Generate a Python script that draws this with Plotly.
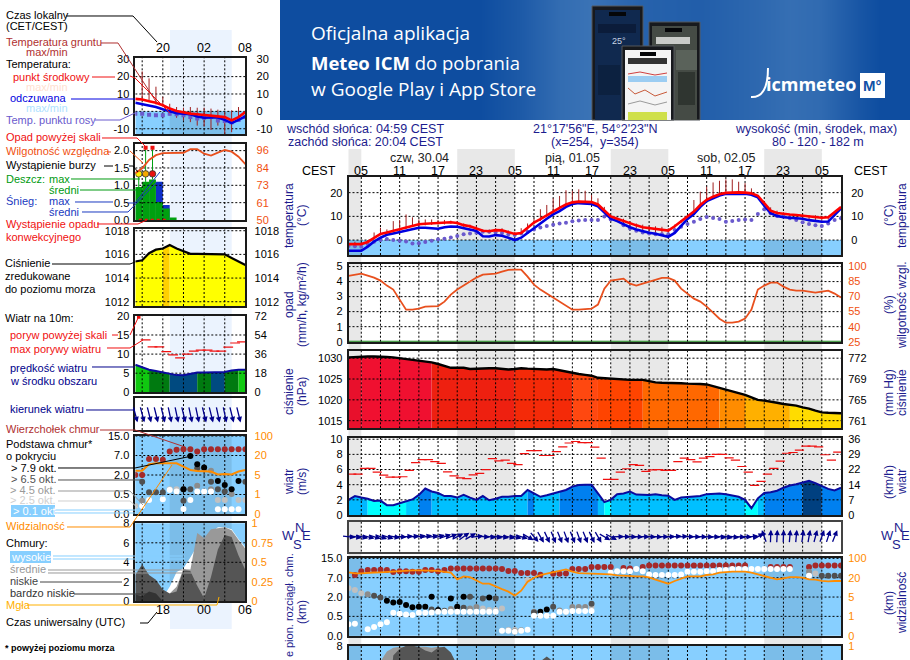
import math
import plotly.graph_objects as go

W, H = 910, 660
FONT = "Liberation Sans"
NAVY = "#1c1c8e"
ORANGE = "#f05010"
VIS = "#ff8c00"
SKY = "#87cfff"
SKY_NIGHT = "#7bbde9"

# ---- main meteogram, one value per hour, hour 0 = 03 CEST on 30.04
temp = [-1.7, -1.6, -1.7, -0.8, 1.0, 2.6, 3.2, 3.9, 4.5, 5.2, 6.2, 6.7, 6.9, 7.0, 7.1, 7.3, 7.5, 7.2, 6.3, 5.8,
        4.8, 3.9, 3.7, 4.2, 4.1, 3.3, 2.6, 3.0, 5.2, 7.4, 8.8, 10.5, 12.2, 13.6, 15.0, 15.9, 16.2, 16.2, 16.0, 15.0,
        12.6, 10.0, 9.0, 8.0, 7.0, 6.2, 5.4, 5.0, 4.7, 4.4, 4.0, 5.8, 7.9, 9.8, 12.0, 14.8, 17.0, 18.3, 19.3, 19.9,
        20.1, 20.1, 20.0, 19.7, 18.7, 15.4, 12.4, 11.4, 11.0, 10.8, 10.6, 10.3, 10.0, 9.7, 9.4, 9.6, 11.6, 13.9]
feel = [-4.5, -4.5, -4.5, -2.8, -0.6, 1.0, 2.2, 2.8, 3.4, 4.2, 4.9, 5.2, 5.2, 5.1, 4.8, 5.4, 5.7, 5.6, 5.0, 4.5,
        3.8, 1.6, 1.5, 2.1, 1.8, 1.0, 0.0, 1.0, 3.0, 5.3, 7.0, 9.0, 10.8, 12.2, 14.0, 15.2, 15.6, 15.5, 15.2, 14.2,
        11.5, 9.0, 8.0, 6.7, 5.4, 4.5, 3.7, 3.1, 2.7, 2.0, 1.4, 3.0, 6.0, 8.9, 11.0, 14.0, 16.5, 17.6, 18.8, 19.5,
        19.6, 19.6, 19.5, 19.1, 18.0, 14.5, 11.3, 10.2, 9.6, 9.4, 9.2, 9.0, 8.4, 8.0, 7.7, 7.8, 10.6, 13.4]
dew = [-2.5, -2.6, -2.8, -1.7, -0.7, 0.0, 0.5, 0.0, -0.3, -0.6, -1.4, -1.3, -0.8, -0.3, 0.3, 0.6, 1.1, 1.7, 2.4, 2.8,
       3.1, 3.5, 3.5, 3.2, 3.0, 2.5, 2.1, 2.8, 3.5, 4.5, 5.3, 5.9, 6.5, 7.0, 7.3, 7.9, 8.2, 8.5, 8.5, 8.5,
       9.9, 8.7, 8.5, 6.3, 4.9, 3.9, 3.2, 2.8, 2.5, 2.4, 2.5, 4.2, 5.6, 6.8, 7.7, 8.9, 9.7, 9.3, 8.9, 7.7,
       8.0, 8.5, 8.7, 8.5, 11.0, 13.0, 11.3, 10.1, 9.9, 9.2, 8.5, 7.5, 6.8, 6.3, 5.9, 7.0, 8.5, 9.2]
soil_max = [-1.0, -0.7, -1.0, 0.0, 3.2, 5.2, 4.5, 8.0, 8.5, 10.8, 9.6, 8.7, 8.7, 8.7, 8.5, 8.5, 8.2, 8.0, 7.0, 6.5,
            6.0, 4.5, 4.5, 5.0, 5.0, 4.0, 3.5, 5.0, 7.0, 9.0, 13.0, 14.8, 17.6, 18.6, 21.0, 20.8, 21.4, 20.8, 19.0, 17.6,
            14.0, 10.5, 9.5, 9.0, 8.0, 7.0, 6.5, 6.0, 5.8, 5.6, 5.0, 6.5, 8.5, 10.5, 16.9, 20.4, 22.5, 24.3, 25.0, 25.6,
            25.6, 24.6, 24.0, 21.8, 19.0, 15.5, 13.8, 12.4, 11.7, 10.8, 10.8, 10.8, 10.5, 10.5, 10.0, 10.0, 11.8, 14.2]
soil_min = [-2.6, -2.6, -2.5, -1.5, 0.5, 2.0, 2.6, 3.2, 3.9, 4.6, 5.5, 6.0, 6.2, 6.4, 6.5, 6.6, 6.9, 6.6, 5.6, 5.1,
            4.0, 3.0, 2.8, 3.5, 3.2, 2.4, 1.6, 2.2, 4.4, 6.6, 8.0, 9.8, 11.6, 13.0, 14.4, 15.4, 15.8, 15.8, 15.5, 14.4,
            12.0, 9.0, 8.0, 7.0, 6.0, 5.0, 4.0, 3.5, 3.0, 2.5, 2.0, 5.0, 7.2, 9.2, 11.4, 14.2, 16.4, 17.8, 18.8, 19.4,
            19.6, 19.6, 19.4, 19.2, 18.0, 14.6, 11.6, 10.6, 10.0, 9.8, 9.4, 9.0, 8.6, 8.4, 8.0, 8.6, 11.0, 13.4]
hours_3h = [0, 3, 6, 9, 12, 15, 18, 21, 24, 27, 30, 33, 36, 39, 42, 45, 48, 51, 54, 57, 60, 63, 66, 69, 72, 75, 77]
temp_upper = [-1.0, 0.0, 4.0, 6.0, 7.8, 8.2, 7.2, 5.0, 5.0, 4.0, 9.6, 14.4, 16.9, 15.8, 10.0, 7.4, 5.6, 6.5, 12.8, 19.0,
              20.9, 20.5, 14.0, 12.4, 11.5, 10.6, 14.6]
feel_lower = [-5.0, -3.5, 1.2, 3.4, 4.4, 4.8, 4.2, 0.6, 0.8, -0.2, 5.6, 11.0, 14.3, 13.2, 7.2, 3.7, 1.9, 2.2, 10.0, 16.5,
              18.6, 18.0, 10.4, 8.6, 7.6, 7.0, 12.6]
humidity = [90.7, 92, 93, 91, 89, 86, 81, 77, 67, 57, 57, 58, 60, 60, 60.6, 65, 72, 77, 81, 85,
            89, 92, 92.5, 93, 95, 96.7, 97, 97, 90, 82, 77, 73, 69, 65, 61, 57, 57, 57.5, 58, 62,
            78, 86, 87, 88, 83, 81, 83, 85, 87, 88.7, 88.7, 86, 78, 73, 68, 65, 60, 54, 48, 44,
            44, 45, 48, 57, 77, 81, 84, 84, 80, 77, 76, 76, 75, 74, 75, 76, 73, 69]
precip = [0] * 78
pressure = [1030.2, 1030.3, 1030.3, 1030.4, 1030.4, 1030.4, 1030.3, 1030.2, 1030.0, 1029.8, 1029.7, 1029.5, 1029.3, 1029.0, 1028.6, 1028.2, 1027.7, 1027.7, 1027.7, 1027.4,
            1027.5, 1027.6, 1027.6, 1027.6, 1027.4, 1027.3, 1027.4, 1027.6, 1027.5, 1027.4, 1027.3, 1027.3, 1027.4, 1027.1, 1026.8, 1026.4, 1026.2, 1026.0, 1025.8, 1025.3,
            1025.2, 1025.0, 1024.9, 1024.9, 1024.8, 1024.8, 1024.8, 1024.5, 1024.2, 1024.1, 1024.1, 1024.0, 1024.0, 1023.9, 1023.9, 1023.8, 1023.7, 1023.3, 1022.9, 1022.5,
            1022.1, 1021.7, 1021.2, 1020.6, 1020.0, 1019.8, 1019.6, 1019.3, 1019.0, 1018.8, 1018.6, 1018.2, 1017.9, 1017.4, 1017.0, 1016.9, 1016.8, 1016.8]
press_breaks = [0, 2, 13, 26, 35, 39, 46, 58, 62, 69, 77]
press_colors = ["#e8102c", "#f01030", "#ee2010", "#f42a08", "#ff4810", "#ff4400", "#ff6800", "#ff8c00", "#ffb000", "#ffdc00"]
wind = [2.0, 2.5, 2.3, 2.15, 1.85, 1.9, 1.3, 1.28, 1.55, 1.85, 2.05, 2.65, 3.5, 3.1, 2.9, 2.5, 2.5, 2.3, 2.65, 2.3,
        2.0, 2.5, 1.95, 2.15, 2.4, 2.4, 2.5, 2.5, 3.3, 2.85, 2.4, 2.6, 2.85, 3.0, 3.3, 3.75, 3.95, 4.0, 4.0, 2.85,
        1.7, 2.0, 2.75, 2.85, 3.1, 2.7, 2.65, 2.65, 2.75, 2.6, 2.55, 2.0, 2.3, 2.35, 2.4, 2.5, 2.75, 2.8, 2.85, 2.75,
        2.55, 2.4, 2.0, 0.9, 2.2, 2.9, 3.0, 3.2, 3.6, 3.9, 4.05, 4.3, 4.5, 4.2, 3.8, 3.45, 3.25, 3.6]
wind_breaks = [0, 3, 9, 11, 13, 28, 29, 33, 39, 40, 41, 62, 64, 65, 71, 74, 77]
wind_colors = ["#00b8ff", "#00ffff", "#00c8ff", "#0080f0", "#00c0ff", "#0080f0", "#00c0ff", "#0080f0", "#00c0ff", "#00ffff",
               "#00c0ff", "#00ffff", "#00c0ff", "#0080f0", "#004080", "#0080f0"]
gust = [5.4, 5.4, 6.15, 6.15, 5.65, 5.25, 5.0, 5.0, 5.05, 5.9, 6.9, 7.3, 7.3, 7.05, 6.8, 5.7, 5.15, 4.9, 4.8, 5.3,
        5.5, 6.0, 7.45, 7.15, 7.25, 6.8, 6.65, 8.1, 8.5, 8.5, 7.85, 7.85, 8.35, 9.0, 9.5, 9.7, 9.55, 9.55, 8.95, 7.5,
        4.7, 4.7, 5.65, 6.1, 6.65, 6.55, 5.75, 5.95, 6.0, 5.9, 5.9, 7.05, 7.5, 7.3, 7.0, 7.5, 7.7, 8.0, 8.0, 7.55,
        7.25, 6.4, 5.65, 3.9, 4.45, 5.4, 6.15, 7.1, 8.15, 8.25, 8.55, 9.1, 9.1, 9.0, 7.95, 7.25, 8.3]
wind_dir = [97, 100, 103, 105, 108, 110, 108, 100, 92, 85, 82, 80, 78, 78, 75, 72, 68, 62, 55, 60,
            85, 95, 98, 100, 100, 102, 104, 108, 120, 140, 150, 155, 158, 158, 160, 158, 160, 158, 155, 150,
            120, 118, 88, 90, 92, 92, 90, 92, 92, 90, 88, 85, 86, 90, 92, 92, 94, 96, 98, 100,
            98, 96, 92, 85, 60, 340, 2, 3, 2, 5, 5, 8, 10, 15, 20, 18, 22, 25]
# cloud heights are positions on the uneven scale: 0=0.0 1=0.5 2=2.0 3=7.0 4=15.0 km
visibility = [3.28, 3.22, 3.22, 3.26, 3.27, 3.28, 3.3, 3.33, 3.35, 3.38, 3.38, 3.38, 3.38, 3.38, 3.35, 3.3, 3.26, 2.91, 3.07, 3.03,
              2.88, 2.69, 2.69, 2.53, 2.41, 2.28, 2.07, 2.33, 2.79, 3.0, 3.14, 3.21, 3.28, 3.34, 3.43, 3.31, 3.24, 3.22, 3.21, 3.21,
              3.21, 3.17, 3.12, 3.1, 3.07, 3.07, 3.07, 3.02, 2.9, 2.79, 2.69, 2.83, 2.97, 3.07, 3.07, 3.07, 3.14, 3.17, 3.26, 3.29,
              3.31, 3.31, 3.31, 3.26, 3.17, 3.1, 3.0, 2.91, 2.97, 3.03, 3.03, 3.0, 2.91, 2.9, 2.84, 2.81, 2.83, 2.83]
ctop_h = [1, 2, 3, 4, 5, 6, 7, 8, 9, 10, 11, 12, 13, 14, 15, 16, 17, 18, 19, 20, 21, 22, 23, 24, 25, 26, 27, 28, 29, 30, 32, 33, 34, 35, 36, 37, 38, 39, 40, 41, 43, 44, 46,
          47, 48, 49, 50, 51, 52, 53, 54, 55, 56, 57, 58, 59, 60, 61, 62, 66, 67, 68, 69, 72, 73, 74, 75, 76, 77]
ctop_v = [3.14, 3.34, 3.4, 3.4, 3.41, 3.4, 3.3, 3.34, 3.34, 3.31, 3.31, 3.4, 3.4, 3.34, 3.4, 3.48, 3.48, 3.48, 3.48, 3.48, 3.48, 3.48, 3.48, 3.45, 3.35, 3.35, 3.25, 3.25, 3.25, 3.15, 3.2, 3.2, 3.22, 3.45, 3.45, 3.45, 3.55, 3.55, 3.55, 3.55, 3.5, 3.48, 3.55,
          3.63, 3.63, 3.63, 3.63, 3.63, 3.63, 3.63, 3.63, 3.63, 3.63, 3.63, 3.63, 3.63, 3.63, 3.63, 3.63, 3.55, 3.55, 3.55, 3.55, 3.55, 3.63, 3.63, 3.63, 3.63, 3.63]
cwhite_h = [0, 1, 3, 4, 5, 6, 7, 8, 9, 10, 11, 12, 13, 14, 15, 16, 17, 18, 19, 20, 21, 22, 23, 24, 25, 26, 27, 28, 29, 30, 31, 32, 33, 34, 35, 36, 37, 38,
            41, 42, 43, 44, 45, 46, 47, 48, 49, 50, 51, 52, 53, 54, 55, 56, 57, 58, 59, 60, 61, 62, 63, 64, 65, 66, 67, 68, 69, 72]
cwhite_v = [0.59, 0.62, 0.33, 0.45, 0.59, 0.69, 1.19, 1.14, 1.1, 1.07, 1.19, 1.19, 1.2, 1.24, 1.24, 1.24, 1.24, 1.24, 1.24, 1.24, 1.24, 1.24, 1.24, 0.26, 0.26, 0.2, 0.26, 0.31, 1.03, 1.03, 1.03, 1.03, 1.24, 1.24, 1.28, 1.28, 1.28, 1.28,
            3.26, 3.34, 3.34, 3.34, 3.45, 3.34, 3.17, 3.14, 3.14, 3.14, 3.14, 3.17, 3.31, 3.31, 3.31, 3.34, 3.34, 3.4, 3.4, 3.45, 3.45, 3.45, 3.45, 3.45, 3.45, 3.45, 3.45, 3.45, 3.45, 3.1]
clight_h = [0, 1, 2, 21, 22, 23, 24, 25, 26, 28, 34, 38, 73]
clight_v = [2.45, 2.36, 2.2, 1.41, 1.33, 1.33, 1.41, 0.3, 0.3, 2.88, 1.24, 1.5, 3.22]
cgray_h = [3, 16, 17, 19, 20, 27, 29, 33, 35, 36, 37, 72]
cgray_v = [2.14, 1.38, 1.45, 1.41, 1.48, 0.28, 1.24, 1.3, 1.48, 1.48, 1.48, 3.31]
cdark_h = [4, 5, 13, 15, 18, 19, 21, 23, 26, 29, 32, 38, 74, 75, 76, 77]
cdark_v = [2.07, 1.98, 1.36, 1.29, 1.45, 2.02, 1.93, 1.93, 0.22, 1.2, 1.5, 1.65, 3.1, 3.1, 3.1, 3.1]
cblack_h = [6, 7, 8, 9, 10, 11, 12, 13, 14, 16, 17, 18, 22, 30, 31]
cblack_v = [1.81, 1.72, 1.74, 1.59, 1.47, 1.5, 1.5, 2.02, 1.33, 1.93, 1.5, 2.02, 1.97, 1.24, 1.36]
cloud_mid = [0, 0, 0, 0, 0, 6.4, 7.4, 7.8, 7.9, 7.9, 7.8, 7.9, 7.9, 7.8, 7.9, 7.8, 7.2, 6.0] + [0] * 60
cloud_low = [0, 0, 0, 0, 0, 0, 0, 7.0, 7.7, 8.0, 8.0, 7.9, 7.5, 7.3, 7.8, 7.9, 7.3, 6.0, 0, 0,
             0, 0, 0, 0, 0, 0, 0, 0, 0, 0, 6.4, 6.9, 6.4] + [0] * 45

# ---- explanatory mini chart on the left, 17 hourly values
l_temp = [7.2, 6.8, 5.8, 4.9, 3.5, 1.6, 0.2, -0.6, -1.3, -1.7, -2.1, -2.3, -2.5, -3.3, -5.2, -3.3, -0.4]
l_feel = [4.9, 4.1, 3.3, 2.5, 1.2, 0.0, -1.0, -1.4, -1.7, -2.9, -3.7, -3.5, -3.5, -4.9, -6.8, -4.9, -2.9]
l_dew = [-1.4, -1.4, -1.9, -2.3, -2.3, -1.4, -1.7, -2.3, -3.3, -4.1, -3.7, -3.3, -5.2, -5.6, -6.2, -4.9, -3.3]
l_soil_h = [1, 2, 3, 4, 5, 6, 7, 8, 9, 10, 11, 12, 13, 14, 15]
l_soil_max = [23, 19, 14.2, 8.4, 4.4, 2.5, 2.1, 2.5, 2.1, 2.1, 1.6, 1.0, -0.4, 0.6, 2.5]
l_soil_min = [6.5, 6, 4, 3, -2.3, -3.7, -5.2, -6.2, -8.2, -8.7, -10.7, -8.2, -13, -12, -5.2]
l_temp_max = [13.8, 12.6, 11.3, 9.5, 7.4, 5.0, 2.5, 2.2, 2.0, 1.8, 1.6, 1.2, 0.8, 0.2, -0.4, 0.2, 0.6]
l_feel_min = [0.0, -1.0, -1.0, -1.2, -2.0, -3.3, -5.0, -6.5, -7.5, -7.8, -7.9, -8.2, -8.8, -11.0, -11.5, -6.0, -2.0]
l_rain_mean = [0.95, 1.1, 1.17, 0.52, 0.33, 0.07, 0, 0, 0, 0, 0, 0, 0, 0, 0, 0]
l_snow_max = [0, 0, 0, 1.1, 0.43, 0, 0, 0, 0, 0, 0, 0, 0, 0, 0, 0]
l_rain_max = [1.33, 2.08, 2.08]
l_storm_colors = ["#ffee00", "#f5a800", "#e81010"]
l_humidity = [81, 84.3, 89.8, 93, 94.4, 94.6, 94.6, 94.6, 97, 97, 94, 92.7, 94.7, 96.4, 95.3, 92, 87]
l_pressure = [1015.4, 1015.5, 1016.1, 1016.4, 1016.5, 1016.8, 1016.5, 1016.3, 1016.05, 1016.05, 1016.05, 1016.05, 1016.05, 1016.0, 1015.7, 1015.4, 1015.1]
l_wind = [7.2, 6.5, 5.9, 5.6, 5.2, 4.8, 4.5, 4.45, 4.8, 5.2, 5.2, 5.2, 5.2, 5.3, 5.7, 5.9, 5.9]
l_wind_breaks = [0, 2, 5, 9, 11, 13, 15, 16]
l_wind_colors = ["#10c810", "#007a10", "#004a80", "#007a10", "#004a80", "#007a10", "#10c810"]
l_gust = [None, 13.7, 11.9, 11.9, 10.65, 9.8, 9.0, 10.0, 10.8, 11.05, 11.05, 10.8, 10.8, 11.8, 12.9, 13.2]
l_dir = [165, 165, 166, 166, 166, 168, 168, 166, 168, 168, 166, 166, 168, 168, 166, 166, 160]
l_vis = [2.22, 2.22, 2.55, 2.6, 2.6, 2.6, 2.6, 2.43, 2.26, 2.2, 2.2, 2.18, 2.03, 2.05, 2.03, 2.18, 2.26]
l_ctop_h = [0, 1, 2, 3, 4, 5, 6, 7, 8, 9, 10, 11, 12, 13, 14, 15, 16]
l_ctop_v = [2.0, 2.0, 2.82, 2.82, 2.78, 3.2, 3.3, 3.32, 3.32, 3.2, 3.32, 3.32, 3.32, 3.32, 3.32, 3.32, 3.32]
l_cwhite_h = [1, 2, 4, 5, 6, 7, 8, 9, 10, 11, 12, 13, 14, 15]
l_cwhite_v = [0.41, 0.72, 0.75, 1.23, 1.15, 0.26, 0.72, 1.15, 1.15, 1.15, 0.24, 0.24, 0.24, 0.24]
l_clight_h = [0, 5, 6, 12, 13, 15, 16]
l_clight_v = [0.41, 1.27, 1.27, 0.72, 0.72, 0.72, 0.72]
l_cgray_h = [1, 9, 10, 11, 11, 14]
l_cgray_v = [0.68, 1.45, 2.29, 2.22, 1.27, 1.03]
l_cdark_h = [1, 2, 3, 4, 7, 7, 8, 9, 11, 12, 13, 16]
l_cdark_v = [1.66, 1.11, 1.11, 1.11, 0.68, 1.27, 1.27, 2.34, 1.66, 1.27, 1.15, 1.66]
l_cblack_h = [7, 8, 9, 10, 12, 13, 14, 15]
l_cblack_v = [1.27, 2.97, 2.55, 2.39, 1.69, 1.49, 1.27, 1.69]
l_cloud_high = [0, 0, 0, 0, 0.4, 1.5, 3.0, 3.4, 4.5, 5.7, 5.8, 7.0, 7.6, 7.6, 7.4, 6.4, 5.5]
l_cloud_mid = [0, 0, 0, 0, 0, 0.8, 1.5, 3.3, 3.2, 7.0, 6.5, 7.4, 7.5, 7.6, 7.3, 6.3, 5.4]
l_cloud_low = [2.7, 3.8, 2.7, 2.2, 1.2, 0.8, 1.0, 3.3, 3.1, 1.6, 0.3, 2.5, 5.3, 6.8, 6.6, 4.7, 3.2]
l_cloud_vlow = [0.7, 0.5, 1.0, 0.8, 0, 0, 0, 0, 0, 0, 0, 0, 0, 0, 0, 0, 0]
l_fog = [0, 0, 0, 0, 0, 0, 0, 0, 0, 0, 0, 0, 0.15, 0.15, 0.15, 0.15]

# tick labels
local_ticks = ["05", "11", "17", "23", "05", "11", "17", "23", "05", "11", "17", "23", "05"]
cloud_scale = ["0.0", "0.5", "2.0", "7.0", "15.0"]
vis_scale = ["0", "1", "5", "20", "100"]

hours = list(range(78))
l_hours = list(range(17))
R_X, L_X = [0, 77], [0, 16]
R_GRID, L_GRID = list(range(2, 77, 3)), [1, 4, 7, 10, 13]
R_NIGHTS, L_NIGHTS = [(0, 2), (17, 26), (41, 50), (65, 74)], [(5, 14)]

fig = go.Figure()
layout_axes = {}
shapes = []
notes = []
next_axis = 2


def fx(p):
    return p / W


def fy(p):
    return 1 - p / H


def rect(x0, y0, x1, y1, color, layer="below", line=None):
    shapes.append(dict(type="rect", xref="paper", yref="paper", x0=fx(x0), x1=fx(x1), y0=fy(y1), y1=fy(y0),
                       fillcolor=color, line=dict(width=1 if line else 0, color=line or color), layer=layer))


def leader(color, *pts, width=1):
    path = "M " + " L ".join(f"{fx(a):.5f},{fy(b):.5f}" for a, b in pts)
    shapes.append(dict(type="path", xref="paper", yref="paper", path=path, line=dict(color=color, width=width), layer="above"))


def txt(x, y, s, color="black", anchor="left", size=11, angle=0, bold=False, family=FONT):
    if bold:
        s = f"<b>{s}</b>"
    notes.append(dict(x=fx(x), y=fy(y), xref="paper", yref="paper", text=s, showarrow=False, xanchor=anchor, yanchor="middle",
                      textangle=angle, font=dict(family=family, size=size, color=color), borderpad=0, borderwidth=0))


def panel(box, xr, yr, ticks, left, right, right_color="black", right_range=None, right_ticks=None, standoff=5, edge="#1a1a1a"):
    """One framed chart with an own x axis and a left and a right y axis."""
    global next_axis
    k = next_axis
    next_axis += 1
    x0, y0, x1, y1 = box
    dom_x = [fx(x0), fx(x1)]
    dom_y = [fy(y1), fy(y0)]
    layout_axes[f"xaxis{k}"] = dict(domain=dom_x, range=xr, anchor=f"y{2 * k}", showgrid=False, zeroline=False, showticklabels=False, automargin=False,
                                    ticks="", showline=True, mirror=True, linecolor=edge, linewidth=1.6)
    layout_axes[f"yaxis{2 * k}"] = dict(domain=dom_y, range=yr, anchor=f"x{k}", showgrid=False, zeroline=False, tickvals=ticks, ticktext=left, automargin=False,
                                        ticks="outside", ticklen=2, tickcolor="rgba(0,0,0,0)", showline=True, mirror=True, linecolor=edge, linewidth=1.6,
                                        tickfont=dict(family=FONT, size=11, color="black"))
    layout_axes[f"yaxis{2 * k + 1}"] = dict(domain=dom_y, range=right_range or yr, anchor=f"x{k}", overlaying=f"y{2 * k}", side="right", automargin=False,
                                            showgrid=False, zeroline=False, tickvals=right_ticks or ticks, ticktext=right, ticks="outside", ticklen=standoff,
                                            tickcolor="rgba(0,0,0,0)", tickfont=dict(family=FONT, size=11, color=right_color))
    fig.add_trace(go.Scatter(x=[xr[0]], y=[(right_range or yr)[0]], mode="none", xaxis=f"x{k}", yaxis=f"y{2 * k + 1}"))
    return k


def add(k, trace, right=False):
    trace.update(xaxis=f"x{k}", yaxis=f"y{2 * k + (1 if right else 0)}")
    fig.add_trace(trace)


def grid(k, vert, horiz, xr, yr):
    xs, ys = [], []
    for v in vert:
        xs += [v, v, None]
        ys += [yr[0], yr[1], None]
    for h in horiz:
        xs += [xr[0], xr[1], None]
        ys += [h, h, None]
    add(k, go.Scatter(x=xs, y=ys, mode="lines", line=dict(color="black", width=1, dash="2px,2px")))


def sky_panel(box, nights, xr):
    x0, y0, x1, y1 = box
    rect(x0, y0, x1, y1, SKY)
    for a, b in nights:
        rect(x0 + (x1 - x0) * (a - xr[0]) / (xr[1] - xr[0]), y0, x0 + (x1 - x0) * (b - xr[0]) / (xr[1] - xr[0]), y1, SKY_NIGHT)


def below_zero(k, yr, nights, xr):
    shapes.append(dict(type="rect", xref=f"x{k}", yref=f"y{2 * k}", x0=xr[0], x1=xr[1], y0=yr[0], y1=0, fillcolor=SKY, line=dict(width=0), layer="below"))
    for a, b in nights:
        shapes.append(dict(type="rect", xref=f"x{k}", yref=f"y{2 * k}", x0=a, x1=b, y0=yr[0], y1=0, fillcolor=SKY_NIGHT, line=dict(width=0), layer="below"))


def segments(k, xs, ys, breaks, colors):
    for a, b, c in zip(breaks[:-1], breaks[1:], colors):
        add(k, go.Scatter(x=xs[a:b + 1], y=ys[a:b + 1], mode="none", fill="tozeroy", fillcolor=c))


def spikes(k, xs, lows, highs, color):
    px, py = [], []
    for x, a, b in zip(xs, lows, highs):
        px += [x, x, None]
        py += [a, b, None]
    add(k, go.Scatter(x=px, y=py, mode="lines", line=dict(color=color, width=1)))


def dots(k, xs, ys, color, size=6):
    add(k, go.Scatter(x=xs, y=ys, mode="markers", marker=dict(color=color, size=size, line=dict(width=0))))


def arrows(k, xs, dirs, length, px_per_x):
    for x, d in zip(xs, dirs):
        s, c = math.sin(math.radians(d)), math.cos(math.radians(d))
        notes.append(dict(x=x + length / 2 * s / px_per_x, y=length / 2 * c, xref=f"x{k}", yref=f"y{2 * k}", ax=-length * s, ay=length * c,
                          text="", showarrow=True, arrowhead=2, arrowsize=0.85, arrowwidth=1.3, arrowcolor="#00008b", standoff=0))


# ---- backgrounds
rect(170, 30, 231.7, 629, "#ebf3fe")
PX_H = (841 - 348.5) / 77
for a, b in R_NIGHTS:
    rect(348.5 + a * PX_H, 149, 348.5 + b * PX_H, 660, "#e8e8e8")

# ---- banner with the soft blue gradient
banner_x = [280, 480, 520, 560, 590, 640, 700, 760, 790, 820, 860, 880, 910]
banner_z = [0, 0, 0.3, 0.75, 0.9, 0.5, 0.4, 0.65, 0.8, 0.7, 0.2, 0, 0]
layout_axes["xaxis99"] = dict(domain=[fx(280), 1], range=[280, 910], anchor="y99", visible=False)
layout_axes["yaxis99"] = dict(domain=[fy(120), 1], range=[0, 1], anchor="x99", visible=False)
fig.add_trace(go.Heatmap(x=banner_x, y=[0, 1], z=[banner_z, banner_z], zsmooth="best", showscale=False, zmin=0, zmax=1,
                         colorscale=[[0, "#0e4da0"], [1, "#3f77b8"]], xaxis="x99", yaxis="y99", hoverinfo="skip"))
# phones
rect(592, 6, 643, 120, "#17191d", "above", "#55585c")
rect(595, 10, 640, 120, "#10294f", "above")
rect(609, 12, 626, 16, "#050608", "above")
rect(598, 24, 636, 33, "#0b1c3a", "above")
rect(598, 65, 620, 95, "#0c2140", "above")
rect(649, 22, 700, 120, "#17191d", "above", "#55585c")
rect(652, 26, 697, 120, "#454b45", "above")
rect(665, 28, 682, 32, "#050608", "above")
rect(656, 37, 690, 44, "#c9cbc8", "above")
rect(676, 50, 697, 70, "#5a625a", "above")
rect(678, 72, 695, 105, "#2f3530", "above")
rect(622, 46, 674, 120, "#17191d", "above", "#55585c")
rect(625, 50, 671, 120, "#f4f4f4", "above")
rect(640, 52, 656, 56, "#050608", "above")
rect(628, 58, 667, 64, "#333333", "above")
rect(628, 76, 667, 82, "#9ccdf2", "above")
rect(628, 112, 667, 120, "#cfe04a", "above")
leader("#c85a3a", (628, 88), (635, 94), (645, 90), (655, 96), (667, 92))
leader("#d04040", (628, 74), (640, 72), (655, 75), (667, 73))
leader("#9a9a9a", (628, 104), (640, 101), (655, 105), (667, 102))
txt(311, 33, "Oficjalna aplikacja", "white", size=19, family="Open Sans")
txt(311, 62, "<b>Meteo ICM</b> do pobrania", "white", size=18.5, family="Open Sans")
txt(311, 89, "w Google Play i App Store", "white", size=19, family="Open Sans")
txt(612, 41, "25°", "#c8d4e4", size=9)
txt(766, 84, "icmmeteo", "white", size=18, bold=True, family="Open Sans")
rect(860, 73, 885, 98, "white", "above")
txt(872.5, 85, "M°", "#1252a6", "center", size=15, bold=True)
shapes.append(dict(type="path", xref="paper", yref="paper", layer="above", line=dict(color="white", width=2),
                   path=f"M {fx(751)},{fy(97)} Q {fx(768)},{fy(98)} {fx(768)},{fy(68)}"))

# ---- main panels
T_BOX = (348.5, 177, 841, 255)
T_Y = [-6.3, 26.6]
k = panel(T_BOX, R_X, T_Y, [0, 10, 20], ["0", "10", "20"], ["0", "10", "20"], standoff=7)
below_zero(k, T_Y, R_NIGHTS, R_X)
add(k, go.Scatter(x=hours_3h, y=[temp[h] for h in hours_3h], mode="none"))
add(k, go.Scatter(x=hours_3h, y=temp_upper, mode="none", fill="tonexty", fillcolor="rgba(255,205,205,0.6)"))
add(k, go.Scatter(x=hours_3h, y=feel_lower, mode="none"))
add(k, go.Scatter(x=hours_3h, y=[feel[h] for h in hours_3h], mode="none", fill="tonexty", fillcolor="rgba(185,230,255,0.8)"))
grid(k, R_GRID, [0, 10, 20], R_X, T_Y)
spikes(k, hours, soil_min, soil_max, "#a02020")
dots(k, hours, dew, "#6a5acd", 4)
add(k, go.Scatter(x=hours, y=feel, mode="lines", line=dict(color="#0000e0", width=2.6)))
add(k, go.Scatter(x=hours, y=temp, mode="lines", line=dict(color="#ff0000", width=2.6)))
for tick, hour in zip(local_ticks, range(2, 78, 6)):
    notes.append(dict(x=hour, y=fy(170.7), xref=f"x{k}", yref="paper", text=tick, showarrow=False, yanchor="middle",
                      font=dict(family=FONT, size=12.5, color="black")))

R_Y = [0, 5.17]
k = panel((348.5, 264, 841, 341.7), R_X, R_Y, [0, 1, 2, 3, 4, 5], ["0", "1", "2", "3", "4", "5"], ["25", "40", "55", "70", "85", "100"],
          ORANGE, right_range=[25, 102.55], right_ticks=[25, 40, 55, 70, 85, 100], standoff=4)
add(k, go.Scatter(x=hours, y=precip, mode="lines", line=dict(color="#108010", width=2)))
grid(k, R_GRID, [1, 2, 3, 4, 5], R_X, R_Y)
add(k, go.Scatter(x=hours, y=humidity, mode="lines", line=dict(color="#e8501e", width=1.8)), right=True)

P_Y = [1013.17, 1031.8]
k = panel((348.5, 350.7, 841, 428.3), R_X, P_Y, [1015, 1020, 1025, 1030], ["1015", "1020", "1025", "1030"], ["761", "765", "769", "772"], standoff=4)
segments(k, hours, pressure, press_breaks, press_colors)
grid(k, R_GRID, [1015, 1020, 1025, 1030], R_X, P_Y)
add(k, go.Scatter(x=hours, y=pressure, mode="lines", line=dict(color="black", width=2.4)))

V_Y = [0, 10.2]
k = panel((348.5, 437.7, 841, 515), R_X, V_Y, [0, 2, 4, 6, 8, 10], ["0", "2", "4", "6", "8", "10"], ["0", "7", "14", "22", "29", "36"], standoff=4)
segments(k, hours, wind, wind_breaks, wind_colors)
grid(k, R_GRID, [2, 4, 6, 8, 10], R_X, V_Y)
add(k, go.Scatter(x=hours, y=wind, mode="lines", line=dict(color="#0a0a9e", width=2)))
add(k, go.Scatter(x=[h + 0.5 for h in hours[:77]], y=gust, mode="markers",
                  marker=dict(symbol="line-ew", size=6.6, line=dict(color="#f01010", width=1.2))))

k = panel((348.5, 521.7, 841, 551.7), R_X, [-15, 15], [], [], [], edge="#444444")
grid(k, R_GRID, [], R_X, [-15, 15])
arrows(k, hours, wind_dir, 14, PX_H)

C_BOX = (348.5, 558, 841, 635.7)
sky_panel(C_BOX, R_NIGHTS, R_X)
k = panel(C_BOX, R_X, [0, 4.02], [0, 1, 2, 3, 4], cloud_scale, vis_scale, VIS, standoff=4)
grid(k, R_GRID, [1, 2, 3, 4], R_X, [0, 4.02])
dots(k, ctop_h, ctop_v, "#a52a2a")
dots(k, clight_h, clight_v, "#c0c0c0")
dots(k, cgray_h, cgray_v, "#8c8c8c")
dots(k, cdark_h, cdark_v, "#505050")
dots(k, cblack_h, cblack_v, "black")
dots(k, cwhite_h, cwhite_v, "white")
add(k, go.Scatter(x=hours, y=visibility, mode="lines", line=dict(color=VIS, width=1.8)))

B_BOX = (348.5, 645.7, 841, 660)
sky_panel(B_BOX, R_NIGHTS, R_X)
k = panel(B_BOX, R_X, [6.54, 8.0], [8], ["8"], ["1"], VIS, standoff=4)
add(k, go.Scatter(x=hours, y=cloud_mid, mode="none", fill="tozeroy", fillcolor="#999999"))
add(k, go.Scatter(x=hours, y=cloud_low, mode="none", fill="tozeroy", fillcolor="#555555"))
grid(k, R_GRID, [], R_X, [6.54, 8.0])

# ---- left explanatory panels
LX0, LX1 = 135.3, 245.4
LT_Y = [-13.2, 31]
k = panel((LX0, 57.5, LX1, 134.3), L_X, LT_Y, [-10, 0, 10, 20, 30], ["-10", "0", "10", "20", "30"], ["-10", "0", "10", "20", "30"], standoff=8)
below_zero(k, LT_Y, L_NIGHTS, L_X)
add(k, go.Scatter(x=l_hours, y=[-13.2] * 17, mode="none"))
add(k, go.Scatter(x=l_hours, y=l_feel_min, mode="none", fill="tonexty", fillcolor=SKY))
add(k, go.Scatter(x=l_hours, y=l_temp, mode="none"))
add(k, go.Scatter(x=l_hours, y=l_temp_max, mode="none", fill="tonexty", fillcolor="rgba(255,225,205,0.8)"))
grid(k, L_GRID, [-10, 0, 10, 20], L_X, LT_Y)
spikes(k, l_soil_h, l_soil_min, l_soil_max, "#a02020")
add(k, go.Scatter(x=l_hours, y=l_dew, mode="markers", marker=dict(symbol="square", color="#6a5acd", size=4)))
add(k, go.Scatter(x=l_hours, y=l_feel, mode="lines", line=dict(color="#0000e0", width=2.6)))
add(k, go.Scatter(x=l_hours, y=l_temp, mode="lines", line=dict(color="#ff0000", width=2.6)))
for hour, tick in zip([4, 10, 16], ["20", "02", "08"]):
    notes.append(dict(x=hour, y=fy(47.5), xref=f"x{k}", yref="paper", text=tick, showarrow=False, yanchor="middle",
                      font=dict(family=FONT, size=12.5, color="black")))

LR_Y = [0, 2.2]
k = panel((LX0, 143.7, LX1, 220), L_X, LR_Y, [0, 0.5, 1, 1.5, 2], ["0.0", "0.5", "1.0", "1.5", "2.0"], ["50", "61", "73", "84", "96"], ORANGE,
          right_range=[50, 100.6], right_ticks=[50, 61.5, 73, 84.5, 96], standoff=8)
bar_x = [h + 0.5 for h in l_hours[:16]]
add(k, go.Bar(x=bar_x, y=l_snow_max, width=1, marker=dict(color="#1030c8", line=dict(width=0))))
add(k, go.Bar(x=bar_x, y=l_rain_mean, width=1, marker=dict(color="#00a010", line=dict(width=0))))
grid(k, L_GRID, [0.5, 1, 1.5, 2], L_X, LR_Y)
spikes(k, bar_x[:3], l_rain_mean[:3], l_rain_max, "#00a010")
add(k, go.Scatter(x=bar_x[1:3], y=l_rain_max[1:3], mode="markers", marker=dict(symbol="square", color="#f01010", size=4)))
add(k, go.Scatter(x=bar_x[:3], y=[1.33, 1.33, 1.33], mode="markers", marker=dict(color=l_storm_colors, size=6.5, line=dict(color="#333333", width=0.8))))
add(k, go.Scatter(x=bar_x[:5], y=[0.015] * 5, mode="lines", line=dict(color="#f01010", width=1.5, dash="3px,3px")))
add(k, go.Scatter(x=l_hours, y=l_humidity, mode="lines", line=dict(color="#e8501e", width=1.8)), right=True)

LP_Y = [1011.64, 1018.12]
k = panel((LX0, 229.3, LX1, 306), L_X, LP_Y, [1012, 1014, 1016, 1018], ["1012", "1014", "1016", "1018"], ["1012", "1014", "1016", "1018"], standoff=6)
segments(k, l_hours, l_pressure, [0, 4, 5, 16], ["#ffff00", "#ffd000", "#ffff00"])
grid(k, L_GRID, [1012, 1014, 1016, 1018], L_X, LP_Y)
add(k, go.Scatter(x=l_hours, y=l_pressure, mode="lines", line=dict(color="black", width=2.2)))

LW_Y = [0, 20.05]
k = panel((LX0, 315.7, LX1, 392.3), L_X, LW_Y, [0, 5, 10, 15, 20], ["0", "5", "10", "15", "20"], ["0", "18", "36", "54", "72"], standoff=6)
segments(k, l_hours, l_wind, l_wind_breaks, l_wind_colors)
grid(k, L_GRID, [5, 10, 15], L_X, LW_Y)
add(k, go.Scatter(x=l_hours, y=l_wind, mode="lines", line=dict(color="#0a0a9e", width=2)))
add(k, go.Scatter(x=bar_x, y=l_gust, mode="markers", marker=dict(symbol="line-ew", size=7, line=dict(color="#f01010", width=1.2))))
add(k, go.Scatter(x=[0.5], y=[19.7], mode="markers", marker=dict(symbol="square", color="#f01010", size=3.5)))

k = panel((LX0, 398.3, LX1, 430), L_X, [-15.85, 15.85], [], [], [])
grid(k, L_GRID, [], L_X, [-15.85, 15.85])
arrows(k, l_hours, l_dir, 17, 110.1 / 16)

LC_BOX = (LX0, 436, LX1, 514)
sky_panel(LC_BOX, L_NIGHTS, L_X)
k = panel(LC_BOX, L_X, [0, 4.0], [0, 1, 2, 3, 4], cloud_scale, vis_scale, VIS, standoff=6)
grid(k, L_GRID, [1, 2, 3, 4], L_X, [0, 4.0])
dots(k, l_ctop_h, l_ctop_v, "#a52a2a")
dots(k, l_clight_h, l_clight_v, "#c0c0c0")
dots(k, l_cgray_h, l_cgray_v, "#8c8c8c")
dots(k, l_cdark_h, l_cdark_v, "#505050")
dots(k, l_cblack_h, l_cblack_v, "black")
dots(k, l_cwhite_h, l_cwhite_v, "white")
add(k, go.Scatter(x=l_hours, y=l_vis, mode="lines", line=dict(color=VIS, width=2)))

LN_BOX = (LX0, 523.3, LX1, 601.3)
sky_panel(LN_BOX, L_NIGHTS, L_X)
k = panel(LN_BOX, L_X, [0, 8.0], [0, 2, 4, 6, 8], ["0", "2", "4", "6", "8"], ["0", "0.25", "0.5", "0.75", "1"], VIS, standoff=3)
add(k, go.Scatter(x=l_hours, y=l_cloud_high, mode="none", fill="tozeroy", fillcolor="white"))
add(k, go.Scatter(x=l_hours, y=l_cloud_mid, mode="none", fill="tozeroy", fillcolor="#999999"))
add(k, go.Scatter(x=l_hours, y=l_cloud_low, mode="none", fill="tozeroy", fillcolor="#555555"))
add(k, go.Scatter(x=l_hours, y=l_cloud_vlow, mode="none", fill="tozeroy", fillcolor="#333333"))
grid(k, L_GRID, [2, 4, 6], L_X, [0, 8.0])
add(k, go.Bar(x=bar_x, y=l_fog, width=0.4, marker=dict(color="#ffb000", line=dict(width=0))))
layout_axes[f"yaxis{2 * k + 1}"]["range"] = [0, 8.0]
for hour, tick in zip([4, 10, 16], ["18", "00", "06"]):
    notes.append(dict(x=hour, y=fy(610), xref=f"x{k}", yref="paper", text=tick, showarrow=False, yanchor="middle",
                      font=dict(family=FONT, size=12.5, color="black")))

# ---- header of the main chart
txt(286, 129, "wschód słońca: 04:59 CEST", NAVY, size=12.5)
txt(288, 142, "zachód słońca: 20:04 CEST", NAVY, size=12.5)
txt(595, 129, "21°17'56\"E, 54°2'23\"N", NAVY, "center", size=12.5)
txt(595, 142, "(x=254,  y=354)", NAVY, "center", size=12.5)
txt(897, 129, "wysokość (min, środek, max)", NAVY, "right", size=12.5)
txt(818, 142, "80 - 120 - 182 m", NAVY, "center", size=12.5)
txt(419, 158, "czw, 30.04", "#222222", "center", size=12.5)
txt(572, 158, "pią, 01.05", "#222222", "center", size=12.5)
txt(726, 158, "sob, 02.05", "#222222", "center", size=12.5)
txt(319, 170.7, "CEST", "black", "center", size=12.5)
txt(871, 170.7, "CEST", "black", "center", size=12.5)

# ---- rotated axis titles
for y, outer, inner in [(216, "temperatura", "(°C)"), (305, "opad", "(mm/h, kg/m²/h)"), (392, "ciśnienie", "(hPa)"), (482, "wiatr", "(m/s)")]:
    txt(289, y, outer, NAVY, "center", angle=-90, size=12)
    txt(302, y, inner, NAVY, "center", angle=-90, size=12)
for y, outer, inner in [(216, "temperatura", "(°C)"), (305, "wilgotność wzgl.", "(%)"), (393, "ciśnienie", "(mm Hg)"), (482, "wiatr", "(km/h)"), (603, "widzialność", "(km)")]:
    txt(902, y, outer, NAVY, "center", angle=-90, size=12)
    txt(889, y, inner, NAVY, "center", angle=-90, size=12)
txt(289, 601, "pion. rozciągł. chm.", NAVY, "center", angle=-90, size=11)
txt(302, 612, "(km)", NAVY, "center", angle=-90, size=12)
txt(289, 654, "e", NAVY, "center", angle=-90, size=11)
for base in (0, 599):
    txt(288 + base, 535, "W", NAVY, "center", size=13)
    txt(299 + base, 527, "N", NAVY, "center", size=13)
    txt(306 + base, 535, "E", NAVY, "center", size=13)
    txt(297 + base, 544, "S", NAVY, "center", size=13)

# ---- legend texts and their leader lines
BROWN = "#b03030"
RED = "#f01010"
GREEN = "#009a10"
BLUE = "#1a3ac0"
txt(6, 15, "Czas lokalny")
txt(6, 26, "(CET/CEST)")
leader("black", (66, 16), (133, 16), (157, 42))
txt(6, 42, "Temperatura gruntu", BROWN)
txt(47, 52, "max/min", BROWN, "center")
leader(BROWN, (101, 43), (118, 43), (157, 103))
txt(6, 64, "Temperatura:")
txt(13, 77, "punkt środkowy", RED)
leader(RED, (92, 77), (115, 77))
leader(RED, (130, 76), (135, 78), (170, 113))
txt(47, 87, "max/min", "#ffe0d0", "center")
txt(10, 98, "odczuwana", "#0000e0")
leader("#0000e0", (71, 99), (135, 99))
txt(47, 108, "max/min", "#aee2ff", "center")
txt(6, 120, "Temp. punktu rosy", "#6a5acd")
leader("#6a5acd", (95, 120), (120, 120), (135, 113))
txt(6, 137, "Opad powyżej skali", RED)
leader(RED, (102, 138), (137, 138), (146, 147))
txt(6, 151, "Wilgotność względna", ORANGE)
leader(ORANGE, (107, 152), (111, 152))
leader(ORANGE, (130, 151), (143, 163))
txt(6, 165, "Wystąpienie burzy")
leader("black", (104, 166), (113, 166))
leader("black", (129, 166), (133, 166), (138, 172))
txt(6, 179, "Deszcz:", GREEN)
txt(49, 179, "max", GREEN)
leader(GREEN, (71, 179), (140, 179))
txt(48.5, 190, "średni", GREEN)
leader(GREEN, (80, 190), (143, 190))
txt(6, 201, "Śnieg:", BLUE)
txt(48.5, 201, "max", BLUE)
leader(BLUE, (75, 202), (113, 202))
leader(BLUE, (128, 203), (135, 203), (160, 172))
txt(48.5, 212, "średni", BLUE)
leader(BLUE, (82, 212), (128, 212), (157, 182))
txt(6, 224, "Wystąpienie opadu", RED)
leader(RED, (97, 224), (138, 224), (147, 220))
txt(6, 237, "konwekcyjnego", RED)
txt(5, 263, "Ciśnienie")
leader("black", (52, 264), (130, 264), (135, 262))
txt(5, 276, "zredukowane")
txt(5, 289, "do poziomu morza")
txt(5, 318, "Wiatr na 10m:")
txt(10, 335, "poryw powyżej skali", RED)
leader(RED, (112, 335), (118, 335))
leader(RED, (130, 335), (139, 316))
txt(10, 349, "max porywy wiatru", RED)
leader(RED, (107, 348), (130, 348), (143, 340))
txt(10, 368, "prędkość wiatru", "#00008b")
leader("#00008b", (92, 367), (135, 367))
txt(10, 381, "w środku obszaru", "#00008b")
txt(10, 409, "kierunek wiatru", "#00008b")
leader("#00008b", (86, 410), (135, 410))
txt(6, 429, "Wierzchołek chmur", BROWN)
leader(BROWN, (100, 430), (135, 430), (185, 447))
txt(6, 444, "Podstawa chmur*")
txt(6, 456, "o pokryciu")
txt(11, 468, "&gt; 7.9 okt.")
leader("black", (58, 468), (135, 468), (192, 456))
txt(11, 479, "&gt; 6.5 okt.", "#505050")
leader("#505050", (58, 480), (143, 480))
txt(10, 490, "&gt; 4.5 okt.", "#999999")
leader("#999999", (58, 491), (130, 491), (143, 505))
txt(10, 500, "&gt; 2.5 okt.", "#d0d0d0")
leader("#d0d0d0", (58, 501), (130, 501), (138, 508))
rect(11, 505, 55, 517, SKY, "above")
txt(13, 511, "&gt; 0.1 okt.", "white")
leader(SKY, (55, 510), (135, 510))
leader(SKY, (55, 513), (135, 513))
txt(6, 526, "Widzialność", VIS)
leader(VIS, (67, 527), (130, 527), (172, 465))
txt(6, 543, "Chmury:")
rect(10, 551, 51, 563, SKY, "above")
txt(11, 557, "wysokie", "white")
leader(SKY, (53, 556), (185, 556))
leader(SKY, (53, 559), (185, 559))
txt(10, 569, "średnie", "#999999")
leader("#999999", (48, 570), (192, 570))
leader("#999999", (48, 573), (192, 573))
txt(10, 581, "niskie", "#444444")
leader("#444444", (40, 582), (122, 582))
txt(10, 593, "bardzo niskie", "#333333")
leader("#333333", (74, 594), (150, 594))
txt(6, 605, "Mgła", "#ffb000")
leader("#ffb000", (27, 605), (217, 605), (219, 597))
txt(6, 622, "Czas uniwersalny (UTC)")
leader("black", (140, 623), (148, 623), (157, 612))
txt(5, 648, "* powyżej poziomu morza", size=9, bold=True)

fig.update_layout(width=W, height=H, margin=dict(l=0, r=0, t=0, b=0), paper_bgcolor="white", plot_bgcolor="rgba(0,0,0,0)",
                  showlegend=False, barmode="overlay", hovermode=False, shapes=shapes, annotations=notes, **layout_axes)
fig.write_html("out.html", config=dict(displayModeBar=False), post_script="document.body.style.margin='0';document.body.style.overflow='hidden';")
